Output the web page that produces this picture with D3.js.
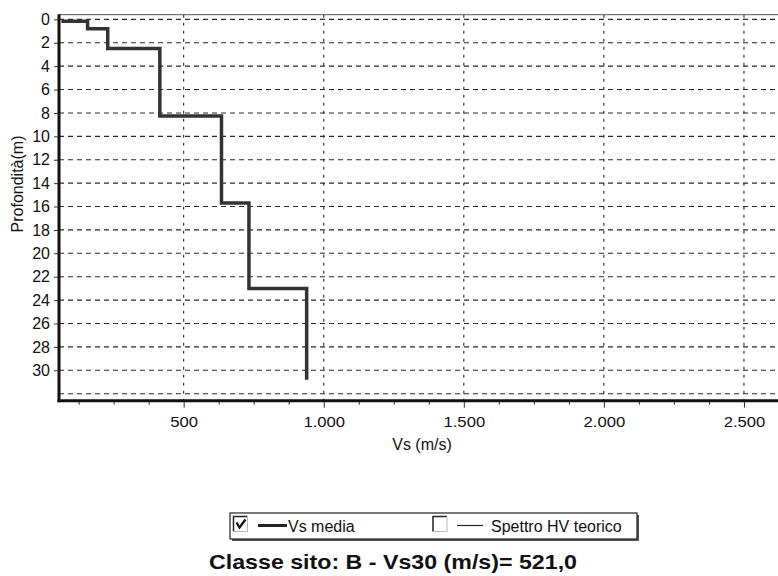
<!DOCTYPE html>
<html>
<head>
<meta charset="utf-8">
<script src="https://cdn.jsdelivr.net/npm/d3@7"></script>
<style>
  html, body { margin: 0; padding: 0; background: #fff; }
  svg { display: block; font-family: Arial, "Liberation Sans", sans-serif; }
</style>
</head>
<body>
<svg id="chart" width="778" height="576"></svg>
<script>
// Shear-wave velocity profile: one velocity per layer, each layer ending at the given depth
const layerVs = [70, 157, 229, 415, 635, 733, 939];
const layerBottom = [0.15, 0.8, 2.5, 8.25, 15.7, 23.0, 30.8];

const depthTicks = d3.range(0, 31, 2);        // labelled depths 0..30
const depthGrid = d3.range(0, 33, 2);         // grid lines 0..32
const vsTicks = [500, 1000, 1500, 2000, 2500];
const vsMinorTicks = d3.range(125, 2700, 125);

const legendItems = ["Vs media", "Spettro HV teorico"];
const legendChecked = [true, false];
const titleText = "Classe sito: B - Vs30 (m/s)= 521,0";
const xLabel = "Vs (m/s)";
const yLabel = "Profondità(m)";

const svg = d3.select("#chart");
const pLeft = 59, pTop = 14.7, pBottom = 400.7, pRight = 800;

const x = d3.scaleLinear().domain([55, 2700]).range([pLeft, pRight]);
const y = d3.scaleLinear().domain([-0.4, 32.6]).range([pTop, pBottom]);

const fmt = v => d3.format(",")(v).replace(/,/g, ".");
const ink = "#2a2a2a";

// grid
const grid = svg.append("g");
grid.selectAll("line.h").data(depthGrid).join("line")
  .attr("x1", pLeft).attr("x2", pRight)
  .attr("y1", d => y(d)).attr("y2", d => y(d))
  .attr("stroke", ink).attr("stroke-width", 1.1)
  .attr("stroke-dasharray", "5,4");
grid.selectAll("line.v").data(vsTicks).join("line")
  .attr("x1", d => x(d)).attr("x2", d => x(d))
  .attr("y1", pTop).attr("y2", pBottom)
  .attr("stroke", ink).attr("stroke-width", 1.1)
  .attr("stroke-dasharray", "3,5");

// top frame
svg.append("line").attr("x1", pLeft).attr("x2", pRight)
  .attr("y1", pTop).attr("y2", pTop)
  .attr("stroke", "#555").attr("stroke-width", 1);

// y axis
const yAxis = d3.axisLeft(y).tickValues(depthTicks).tickSize(5).tickPadding(4).tickFormat(d3.format("d"));
const gy = svg.append("g").attr("transform", `translate(${pLeft},0)`).call(yAxis);
gy.select(".domain").remove();
gy.selectAll("text").attr("font-size", 16).attr("fill", "#111");
gy.selectAll(".tick line").attr("stroke", "#333");

// x axis: minor ticks then major ticks with labels
const gxm = svg.append("g").attr("transform", `translate(0,${pBottom})`)
  .call(d3.axisBottom(x).tickValues(vsMinorTicks.filter(v => v % 500 !== 0)).tickSize(4).tickFormat(""));
gxm.select(".domain").remove();
gxm.selectAll(".tick line").attr("stroke", "#333");
const gx = svg.append("g").attr("transform", `translate(0,${pBottom})`)
  .call(d3.axisBottom(x).tickValues(vsTicks).tickSize(7).tickPadding(9).tickFormat(fmt));
gx.select(".domain").remove();
gx.selectAll("text").attr("font-size", 14.5).attr("fill", "#111")
  .attr("transform", "scale(1.15,1)");
gx.selectAll(".tick line").attr("stroke", "#333");

// thick axis lines
svg.append("line").attr("x1", pLeft).attr("x2", pLeft).attr("y1", pTop - 0.5).attr("y2", pBottom + 1.5)
  .attr("stroke", "#111").attr("stroke-width", 3);
svg.append("line").attr("x1", pLeft - 1.5).attr("x2", pRight).attr("y1", pBottom).attr("y2", pBottom)
  .attr("stroke", "#111").attr("stroke-width", 3);

// velocity profile as a step line
const pts = [[layerVs[0], 0]];
layerVs.forEach((v, i) => {
  if (i > 0) pts.push([v, layerBottom[i - 1]]);
  pts.push([v, layerBottom[i]]);
});
svg.append("path")
  .datum(pts)
  .attr("d", d3.line().x(d => x(d[0])).y(d => y(d[1])))
  .attr("fill", "none").attr("stroke", "#333").attr("stroke-width", 3.5)
  .attr("stroke-linejoin", "miter");

// axis titles
svg.append("text").attr("x", 422).attr("y", 450).attr("text-anchor", "middle")
  .attr("font-size", 16).attr("fill", "#111").text(xLabel);
svg.append("text").attr("transform", "translate(23,184) rotate(-90)").attr("text-anchor", "middle")
  .attr("font-size", 16).attr("fill", "#111").text(yLabel);

// legend box
const lg = svg.append("g");
lg.append("rect").attr("x", 232).attr("y", 515).attr("width", 407).attr("height", 26).attr("fill", "#555");
lg.append("rect").attr("x", 230).attr("y", 513).attr("width", 407).attr("height", 26)
  .attr("fill", "#fff").attr("stroke", "#222").attr("stroke-width", 1.2);

const itemX = [233.5, 433];
legendItems.forEach((name, i) => {
  const bx = itemX[i], by = 516.5;
  // checkbox
  lg.append("path").attr("d", `M${bx},${by + 15}V${by}H${bx + 14}`)
    .attr("fill", "none").attr("stroke", "#222").attr("stroke-width", 1.5);
  lg.append("path").attr("d", `M${bx + 14},${by}V${by + 15}H${bx}`)
    .attr("fill", "none").attr("stroke", "#bbb").attr("stroke-width", 1);
  if (legendChecked[i]) {
    lg.append("path").attr("d", `M${bx + 3},${by + 6}L${bx + 6},${by + 11}L${bx + 12},${by + 3}`)
      .attr("fill", "none").attr("stroke", "#111").attr("stroke-width", 2.2);
  }
  const lx0 = i === 0 ? 258 : 457, lx1 = i === 0 ? 287 : 483;
  lg.append("line").attr("x1", lx0).attr("x2", lx1).attr("y1", 525.5).attr("y2", 525.5)
    .attr("stroke", "#222").attr("stroke-width", i === 0 ? 3 : 1.2);
  lg.append("text").attr("x", i === 0 ? 288 : 491).attr("y", 532)
    .attr("font-size", 16).attr("fill", "#111").text(name);
});

// site class title
svg.append("text").attr("x", 393).attr("y", 569).attr("text-anchor", "middle")
  .attr("font-size", 21).attr("font-weight", "bold").attr("fill", "#111")
  .attr("textLength", 368).attr("lengthAdjust", "spacingAndGlyphs")
  .text(titleText);
</script>
</body>
</html>
